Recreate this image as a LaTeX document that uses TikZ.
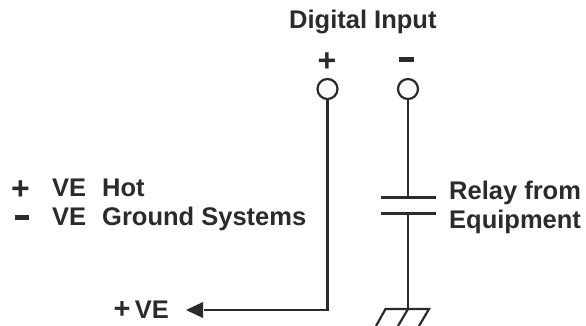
\documentclass[tikz,border=0pt]{standalone}
\usepackage{fontspec}
\setmainfont{Liberation Sans}
\usetikzlibrary{arrows.meta}
\definecolor{ink}{HTML}{2B2B2B}
\tikzset{
  wire/.style={draw=ink,line width=2.2pt},
  lbl/.style={text=ink,font=\fontsize{25.5}{28}\selectfont\bfseries,inner sep=0pt,anchor=base west},
  sign/.style={text=ink,font=\fontsize{32}{32}\selectfont\bfseries,inner sep=0pt,anchor=center},
  term/.style={circle,draw=ink,line width=2.2pt,minimum size=20pt,inner sep=0pt}
}
\begin{document}
\begin{tikzpicture}[x=1pt,y=-1pt]
\useasboundingbox (0,0) rectangle (586,326);
\fill[white] (0,0) rectangle (586,326);
\node[lbl] (title) at (289,29) {Digital Input};
\node[sign] (plus) at (327,62) {+};
\node[sign] (minus) at (406.5,60) {\rule{15pt}{5pt}};
\node[term] (t1) at (327.5,89) {};
\node[term] (t2) at (408,89) {};
\coordinate (corner) at (327.5,310);
\node[lbl,anchor=base east] (ve) at (169,318.5) {{\fontsize{29}{29}\selectfont +}\,VE};
\coordinate (tip) at (186,310);
\draw[wire] (t1) -- (corner) -- ++(-124,0);
\draw[draw=none,fill=ink] (tip) -- ++(17,-8) -- ++(0,16) -- cycle;
\coordinate (capa) at (408,197.5);
\coordinate (capb) at (408,213.5);
\coordinate (gnd) at (408,309);
\draw[wire] (t2) -- (capa);
\draw[wire] (capb) -- (gnd);
\draw[wire] (381,197.5) -- (436,197.5);
\draw[wire] (381,213.5) -- (436,213.5);
\draw[wire] (376,326) -- (385.5,309) -- (429,309) -- (419,326);
\draw[wire] (gnd) -- (398,326);
\node[lbl] (relay1) at (449,199) {Relay from};
\node[lbl] (relay2) at (449,228) {Equipment};
\node[sign] (lp) at (20.5,190) {+};
\node[sign] (lm) at (22,217) {\rule{14pt}{5pt}};
\node[lbl] (hot) at (52,196.5) {VE\hspace{16pt}Hot};
\node[lbl] (sys) at (52,225) {VE\hspace{16pt}Ground Systems};
\end{tikzpicture}
\end{document}
